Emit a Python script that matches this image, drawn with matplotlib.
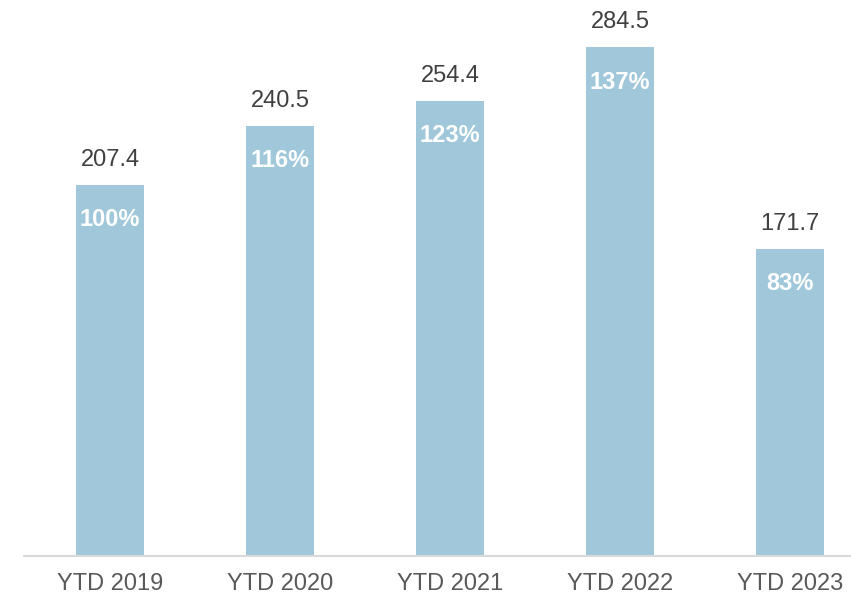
import matplotlib
matplotlib.use("Agg")
import matplotlib.pyplot as plt

categories = ["YTD 2019", "YTD 2020", "YTD 2021", "YTD 2022", "YTD 2023"]
values = [207.4, 240.5, 254.4, 284.5, 171.7]
pct_labels = ["100%", "116%", "123%", "137%", "83%"]

plt.rcParams['font.family'] = ['Liberation Sans', 'DejaVu Sans']

fig = plt.figure(figsize=(8.51, 6), dpi=100)
ax = fig.add_axes([24/851, 1-556/600, 1-24/851, 556/600])

x = list(range(len(categories)))
bars = ax.bar(x, values, width=0.4, color="#A0C8DA")

ax.set_xlim(-0.506, 4.359)
ax.set_ylim(0, 311)

for xi, v, p in zip(x, values, pct_labels):
    ax.annotate(f"{v:.1f}", (xi, v), xytext=(0, 18), textcoords="offset points",
                ha="center", va="center", fontsize=17, color="#404040")
    ax.annotate(p, (xi, v), xytext=(0, -25), textcoords="offset points",
                ha="center", va="center", fontsize=17, color="white", fontweight="bold")

ax.set_xticks(x)
ax.set_xticklabels(categories, fontsize=17, color="#595959")
ax.tick_params(axis="x", length=0, pad=12)
ax.set_yticks([])
for s in ["top", "right", "left"]:
    ax.spines[s].set_visible(False)
ax.spines["bottom"].set_color("#D9D9D9")
ax.spines["bottom"].set_linewidth(1.5)

fig.savefig("out.png", dpi=100)
